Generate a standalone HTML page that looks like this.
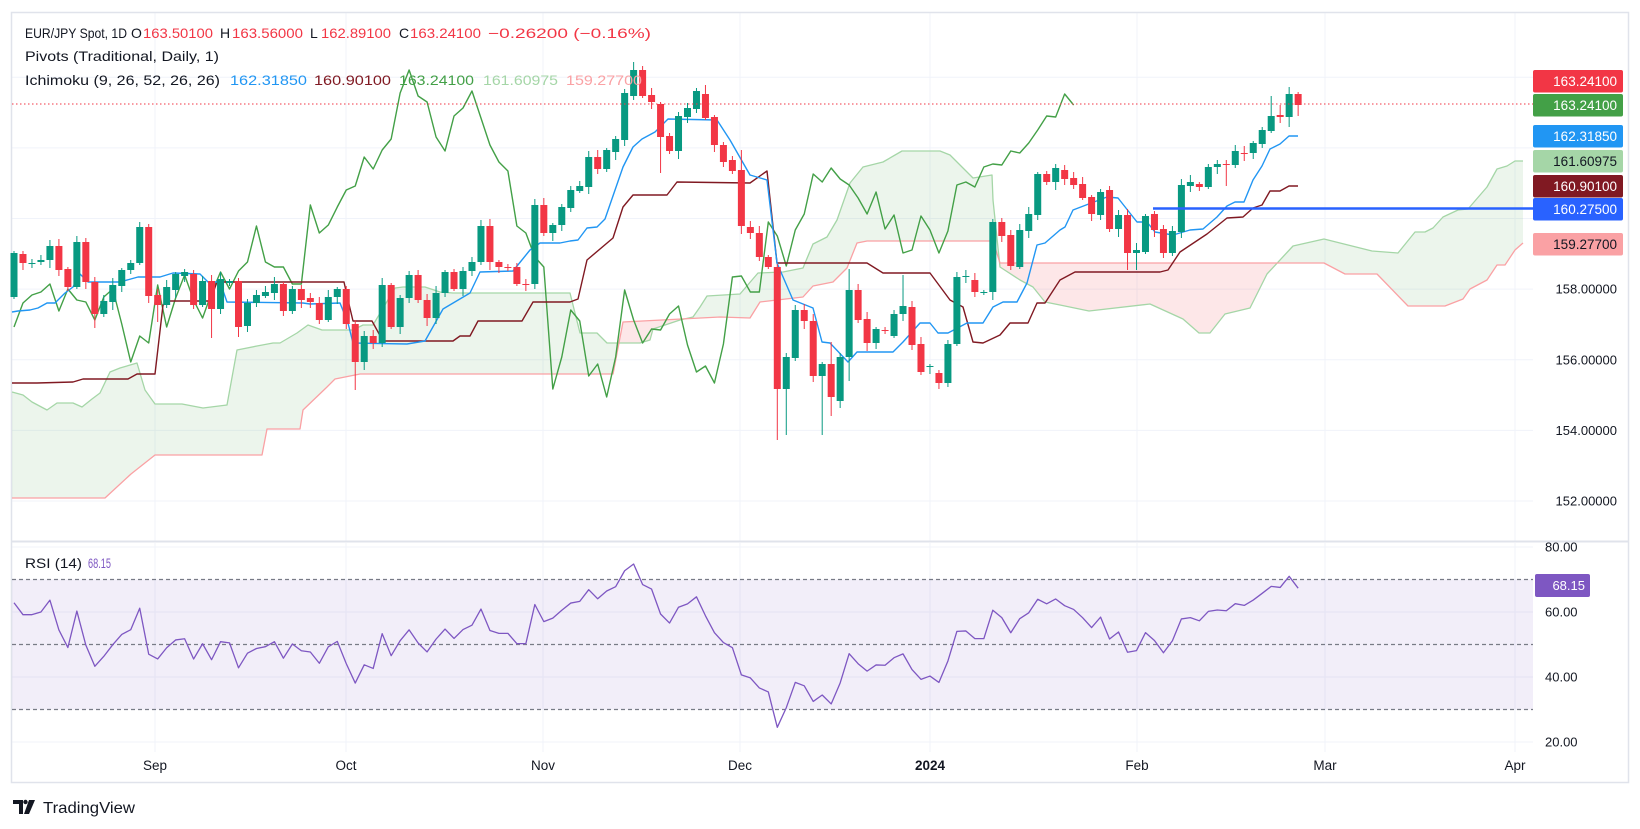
<!DOCTYPE html>
<html><head><meta charset="utf-8"><style>
html,body{margin:0;padding:0;background:#fff;}
svg{display:block;font-family:"Liberation Sans",sans-serif;}
</style></head><body>
<svg id="s" width="1640" height="829" viewBox="0 0 1640 829" xmlns="http://www.w3.org/2000/svg">
<rect width="1640" height="829" fill="#fff"/>
<g id="g"></g>
</svg>
<script>
const NS="http://www.w3.org/2000/svg";
const G=document.getElementById('g');
function el(t,a,txt){const e=document.createElementNS(NS,t);for(const k in a)e.setAttribute(k,a[k]);if(txt!==undefined)e.textContent=txt;G.appendChild(e);return e;}
const X=i=>14+i*8.98;
const C=[[297,253],[254,263],[263,263],[262,260],[260,246],[246,270],[269,287],[287,242],[242,282],[282,314],
[314,301],[302,285],[286,270],[270,263],[263,227],[227,296],[295,305],[305,287],[290,274],[276,272],
[274,305],[305,281],[281,309],[309,279],[283,281],[281,327],[326,303],[303,295],[296,292],[293,284],
[284,311],[311,289],[289,300],[298,302],[303,320],[320,297],[297,289],[289,324],[324,362],[362,336],
[336,343],[343,285],[285,327],[327,298],[298,275],[275,300],[300,318],[318,293],[293,272],[272,289],
[289,271],[271,262],[262,226],[226,262],[262,267],[267,267],[267,284],[284,284],[284,205],[205,233],
[233,225],[225,207],[208,190],[191,186],[187,157],[157,169],[169,150],[152,139],[140,93],[96,70],
[70,96],[95,102],[104,137],[136,151],[151,116],[117,108],[109,91],[94,118],[117,145],[145,162],
[160,171],[170,226],[227,233],[233,257],[257,267],[267,389],[389,357],[358,310],[310,321],[321,376],
[376,364],[364,397],[401,357],[357,290],[290,320],[319,343],[343,329],[330,330],[336,314],[314,306],
[307,345],[344,372],[366,366],[373,383],[383,344],[344,277],[276,276],[280,292],[292,292],[292,222],
[222,236],[235,266],[267,230],[231,214],[215,174],[174,182],[182,168],[170,179],[178,185],[184,198],
[197,214],[215,192],[190,229],[229,215],[215,253],[253,250],[252,216],[214,230],[229,253],[253,231],
[232,185],[186,182],[184,187],[187,167],[167,164],[164,165],[165,151],[153,153],[153,143],[144,130],
[131,116],[115,117],[117,94],[94,105]];
const OV={9:[null,328],16:[null,322],22:[null,338],25:[null,337],38:[null,390],70:[66,null],72:[null,173],85:[null,440],86:[null,435],90:[null,435],91:[342,416],93:[269,381],99:[275,null],15:[224,null],81:[150,null],77:[85,null],76:[88,null],124:[null,270],125:[null,270],130:[null,238],142:[87,127],143:[92,116],141:[105,123],140:[96,null],135:[160,186],69:[62,null],7:[236,null],14:[222,null]};
const PY=p=>104-(p-163.241)*35.32;
const RY=v=>742-(v-20)*3.25;
// grids
const vx=[155,346,543,740,930,1137,1325,1515];
vx.forEach(x=>{el('line',{x1:x,y1:13,x2:x,y2:541,stroke:'#f0f3fa','stroke-width':1});el('line',{x1:x,y1:543,x2:x,y2:752,stroke:'#f0f3fa','stroke-width':1});});
[152,154,156,158,160,162,164].forEach(p=>el('line',{x1:12,y1:PY(p),x2:1533,y2:PY(p),stroke:'#f0f3fa','stroke-width':1}));
[80,60,40,20].forEach(v=>el('line',{x1:12,y1:RY(v),x2:1533,y2:RY(v),stroke:'#f0f3fa','stroke-width':1}));
// frame
el('rect',{x:11.5,y:12.5,width:1617,height:770,fill:'none',stroke:'#e0e3eb','stroke-width':1.5});
el('line',{x1:12,y1:541.5,x2:1628,y2:541.5,stroke:'#e0e3eb','stroke-width':2});
// RSI band
el('rect',{x:12,y:RY(70),width:1521,height:RY(30)-RY(70),fill:'#7e57c2','fill-opacity':0.1});
[70,50,30].forEach(v=>el('line',{x1:12,y1:RY(v),x2:1533,y2:RY(v),stroke:'#787b86','stroke-width':1.2,'stroke-dasharray':'4 3'}));
// cloud
const A=[[12,392],[23,395],[32,402],[47,410],[57,403],[73,403],[82,407],[92,399],[100,393],[110,372],[120,368],[137,363],[145,390],[155,404],[182,404],[203,408],[227,405],[237,350],[257,346],[273,343],[280,343],[297,333],[308,325],[322,330],[344,330],[353,330],[363,325],[373,325],[395,288],[403,287],[425,287],[440,292],[453,293],[570,293],[580,333],[597,333],[607,343],[640,343],[650,340],[653,329],[680,320],[693,317],[700,307],[707,296],[740,294],[758,273],[783,272],[803,268],[813,244],[827,237],[837,220],[850,183],[863,167],[883,162],[902,151],[940,151],[950,155],[973,178],[992,175],[993,200],[1000,267],[1020,280],[1033,287],[1045,302],[1060,305],[1089,311],[1150,304],[1183,319],[1199,333],[1210,333],[1225,314],[1250,308],[1267,274],[1293,246],[1324,239],[1372,251],[1398,253],[1415,232],[1425,232],[1433,228],[1443,217],[1458,210],[1468,209],[1487,187],[1497,169],[1507,166],[1515,161],[1523,161]];
const B=[[12,498],[105,498],[131,474],[155,455],[262,455],[267,429],[300,429],[303,410],[327,387],[335,379],[360,374],[613,374],[623,322],[720,317],[750,318],[760,302],[803,297],[813,286],[833,282],[847,268],[857,243],[867,241],[993,241],[1000,263],[1324,263],[1345,274],[1377,274],[1408,306],[1445,306],[1463,299],[1470,289],[1487,280],[1497,265],[1505,265],[1515,250],[1523,243]];
function interp(P,x){for(let k=1;k<P.length;k++){if(x<=P[k][0]){const a=P[k-1],b=P[k];const t=(x-a[0])/((b[0]-a[0])||1);return a[1]+t*(b[1]-a[1]);}}return P[P.length-1][1];}
let gt=[],gb=[],rb=[];
for(let x=12;x<=1523;x+=1){const a=interp(A,x),b=interp(B,x);const m=Math.min(a,b);gt.push(x+','+m);gb.push(x+','+b);rb.push(x+','+a);}
el('polygon',{points:gt.concat(gb.slice().reverse()).join(' '),fill:'#43a047','fill-opacity':0.1});
el('polygon',{points:gt.concat(rb.slice().reverse()).join(' '),fill:'#f23645','fill-opacity':0.12});
const pl=(P,c,w)=>el('polyline',{points:P.map(p=>p.join(',')).join(' '),fill:'none',stroke:c,'stroke-width':w,'stroke-linejoin':'round'});
pl(A,'#a5d6a7',1.3);pl(B,'#faa1a4',1.3);
// chikou
const ch=[];for(let i=0;i+25<C.length;i++)ch.push([X(i),C[i+25][1]]);
pl(ch,'#43a047',1.4);
// kijun
const K=[[12,383],[37,383],[73,382],[83,379],[128,379],[137,374],[155,374],[163,305],[170,301],[210,301],[217,282],[344,282],[348,300],[353,321],[372,321],[383,341],[453,341],[460,336],[470,336],[478,321],[522,321],[533,302],[570,302],[578,299],[587,260],[613,238],[623,207],[633,195],[667,195],[677,182],[750,183],[767,171],[777,263],[867,263],[883,273],[930,273],[950,300],[963,307],[973,342],[983,343],[1000,335],[1010,323],[1028,323],[1037,303],[1045,303],[1060,280],[1075,272],[1160,272],[1168,270],[1180,252],[1207,234],[1227,218],[1243,217],[1253,208],[1262,205],[1270,191],[1280,191],[1289,186],[1298,186]];
pl(K,'#801922',1.4);
const T=[[12,312],[18,311],[30,310],[38,308],[47,303],[55,303],[65,293],[73,287],[80,274],[88,282],[120,282],[138,277],[160,277],[173,273],[200,274],[208,282],[220,282],[227,302],[303,303],[310,304],[340,303],[348,323],[353,343],[407,344],[425,341],[443,309],[470,293],[480,272],[513,271],[530,250],[540,243],[560,243],[570,241],[578,240],[587,228],[597,227],[605,219],[623,167],[633,147],[642,139],[655,132],[668,119],[717,120],[730,140],[750,175],[767,180],[777,263],[793,300],[813,308],[822,342],[830,343],[848,362],[857,352],[893,352],[903,342],[920,323],[930,323],[938,333],[948,333],[967,323],[983,323],[993,307],[1003,302],[1017,302],[1027,283],[1037,245],[1045,243],[1060,230],[1065,227],[1073,210],[1107,197],[1118,198],[1137,222],[1147,222],[1155,232],[1173,235],[1190,230],[1203,229],[1217,217],[1227,206],[1235,202],[1244,202],[1253,180],[1262,166],[1270,149],[1280,144],[1289,136],[1298,136]];
pl(T,'#2196f3',1.4);
// candles
C.forEach((c,i)=>{const x=X(i);const [o,cl]=c;const up=cl<o||(cl==o&&i%2==0);const col=up?'#089981':'#f23645';
 let top=Math.min(o,cl),bot=Math.max(o,cl);let hi=top-(2+(i*7)%6),lo=bot+(2+(i*5)%7);
 if(OV[i]){if(OV[i][0]!==null)hi=OV[i][0];if(OV[i][1]!==null)lo=OV[i][1];}
 el('line',{x1:x,y1:hi,x2:x,y2:lo,stroke:col,'stroke-width':1});
 el('rect',{x:x-3.5,y:top,width:7,height:Math.max(1,bot-top),fill:col});});
// pivot & price line
el('line',{x1:1153,y1:208.5,x2:1533,y2:208.5,stroke:'#2962ff','stroke-width':2.5});
el('line',{x1:12,y1:104,x2:1533,y2:104,stroke:'#f23645','stroke-width':1,'stroke-dasharray':'1.5 2.5'});
// RSI compute
const pr=C.map(c=>163.241-(c[1]-104)/35.32);
let ag=0.22,al=0.13;const rp=[];
for(let i=0;i<pr.length;i++){if(i>0){const d=pr[i]-pr[i-1];ag=(ag*13+Math.max(d,0))/14;al=(al*13+Math.max(-d,0))/14;}
 const r=100-100/(1+ag/al);rp.push([X(i),RY(r)]);}
pl(rp,'#7e57c2',1.3);
// price axis labels
[[152,501],[154,430.5],[156,360],[158,289]].forEach(a=>el('text',{x:1617,y:a[1]+4.5,'font-size':13,fill:'#131722','text-anchor':'end'},a[0].toFixed(5)));
[[80],[60],[40],[20]].forEach(a=>el('text',{x:1545,y:RY(a[0])+4.5,'font-size':13,fill:'#131722'},a[0].toFixed(2)));
const L=[['#f23645',70,'163.24100','#fff'],['#43a047',94,'163.24100','#fff'],['#2196f3',125,'162.31850','#fff'],['#a5d6a7',150,'161.60975','#131722'],['#801922',175,'160.90100','#fff'],['#2962ff',198,'160.27500','#fff'],['#faa1a4',233,'159.27700','#131722']];
L.forEach(l=>{el('rect',{x:1533,y:l[1],width:90,height:22.5,rx:2,fill:l[0]});el('text',{x:1617,y:l[1]+16,'font-size':13.5,fill:l[3],'text-anchor':'end'},l[2]);});
el('rect',{x:1535,y:574,width:55,height:23,rx:2,fill:'#7e57c2'});
el('text',{x:1585,y:590,'font-size':13,fill:'#fff','text-anchor':'end'},'68.15');
// dates
[['Sep',155],['Oct',346],['Nov',543],['Dec',740],['2024',930],['Feb',1137],['Mar',1325],['Apr',1515]].forEach(d=>el('text',{x:d[1],y:770,'font-size':13.5,fill:'#131722','text-anchor':'middle','font-weight':d[0]=='2024'?'bold':'normal'},d[0]));
// header
function tx(x,y,s,c,w,extra){const a={x:x,y:y,'font-size':14,fill:c};if(w){a.textLength=w;a.lengthAdjust='spacingAndGlyphs';}return el('text',a,s);}
tx(25,38,'EUR/JPY Spot, 1D','#131722',102);
tx(131,38,'O','#131722');tx(143,38,'163.50100','#f23645',70);
tx(220,38,'H','#131722');tx(232,38,'163.56000','#f23645',71);
tx(310,38,'L','#131722');tx(321,38,'162.89100','#f23645',70);
tx(399,38,'C','#131722');tx(410,38,'163.24100','#f23645',71);
tx(488,38,'\u22120.26200 (\u22120.16%)','#f23645',163);
tx(25,61,'Pivots (Traditional, Daily, 1)','#131722',194);
tx(25,85,'Ichimoku (9, 26, 52, 26, 26)','#131722',195);
tx(230,85,'162.31850','#2196f3',77);tx(314,85,'160.90100','#801922',77);tx(399,85,'163.24100','#43a047',75);tx(483,85,'161.60975','#a5d6a7',75);tx(566,85,'159.27700','#faa1a4',76);
tx(25,568,'RSI (14)','#131722',57);tx(88,568,'68.15','#7e57c2',23);
// logo
el('path',{d:'M13 800h10v14h-4v-10h-6z',fill:'#131722'});
el('circle',{cx:25.5,cy:802,r:2.2,fill:'#131722'});
el('path',{d:'M29 800h6l-6 14h-5z',fill:'#131722'});
el('text',{x:43,y:813,'font-size':16,fill:'#131722',textLength:92,lengthAdjust:'spacingAndGlyphs'},'TradingView');
</script>
</body></html>
